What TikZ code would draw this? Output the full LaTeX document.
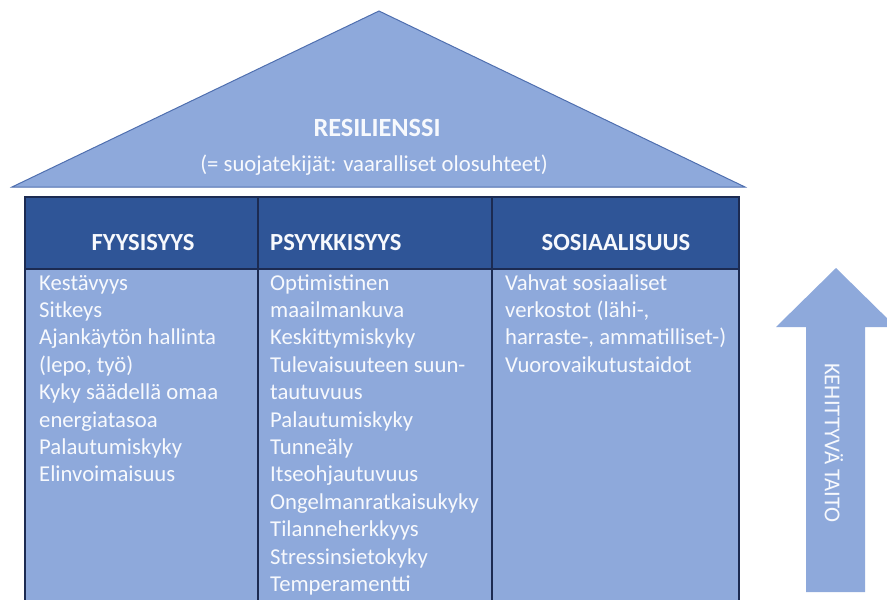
\documentclass[tikz,border=0pt]{standalone}
\usepackage{fontspec}
\setmainfont{Carlito}
\definecolor{lightblue}{HTML}{8EA9DB}
\definecolor{headblue}{HTML}{2F5597}
\definecolor{navy}{HTML}{1C2B52}
\definecolor{roofline}{HTML}{4F6FAF}
\definecolor{txt}{HTML}{F7F9FD}
\begin{document}
\tikzset{
  roof/.style={fill=lightblue, draw=roofline, line width=1pt, line join=miter},
  headband/.style={fill=headblue},
  bodyband/.style={fill=lightblue},
  tabline/.style={draw=navy, line width=1.4pt},
  headtext/.style={text=txt, font=\fontsize{24.6}{28}\selectfont\bfseries, inner sep=0pt, anchor=base},
  bodytext/.style={text=txt, font=\fontsize{22.7}{27.4}\selectfont, inner sep=0pt, anchor=base west, align=left},
  uparrow/.style={fill=lightblue},
}
\begin{tikzpicture}[x=1pt,y=-1pt]
\useasboundingbox (0,0) rectangle (887,600);
% roof
\path[roof] (12,187) -- (379,11) -- (745,187) -- cycle;
\node[text=txt, font=\fontsize{26.3}{30}\selectfont\bfseries, inner sep=0pt] (res) at (377,128) {RESILIENSSI};
\node[text=txt, font=\fontsize{22.7}{27}\selectfont, inner sep=0pt] (suoja) at (374,165) {(= suojatekijät: vaaralliset olosuhteet)};
% table
\fill[headband] (25,197) rectangle (739,269);
\fill[bodyband] (25,269) rectangle (739,606);
\draw[tabline] (25,606) -- (25,197) -- (739,197) -- (739,606);
\draw[tabline] (25,269) -- (739,269);
\draw[tabline] (258,197) -- (258,606);
\draw[tabline] (492,197) -- (492,606);
% headers
\node[headtext] (h1) at (143,250) {FYYSISYYS};
\node[headtext, anchor=base west] (h2) at (270,250) {PSYYKKISYYS};
\node[headtext] (h3) at (616,250) {SOSIAALISUUS};
% bodies (base anchor = last line's baseline)
\node[bodytext] (b1) at (39,{290+7*27.4}) {Kestävyys\\Sitkeys\\Ajankäytön hallinta\\(lepo, työ)\\Kyky säädellä omaa\\energiatasoa\\Palautumiskyky\\Elinvoimaisuus};
\node[bodytext] (b2) at (270,{290+11*27.4}) {Optimistinen\\maailmankuva\\Keskittymiskyky\\Tulevaisuuteen suun-\\tautuvuus\\Palautumiskyky\\Tunneäly\\Itseohjautuvuus\\Ongelmanratkaisukyky\\Tilanneherkkyys\\Stressinsietokyky\\Temperamentti};
\node[bodytext] (b3) at (505,{290+3*27.4}) {Vahvat sosiaaliset\\verkostot (lähi-,\\harraste-, ammatilliset-)\\Vuorovaikutustaidot};
% arrow
\path[uparrow] (806,592) -- (806,327) -- (776,327) -- (836,268) -- (896,327) -- (865,327) -- (865,592) -- cycle;
\node[text=txt, font=\fontsize{22.7}{27}\selectfont, rotate=-90, inner sep=0pt] (taito) at (834,443) {KEHITTYVÄ TAITO};
\end{tikzpicture}
\end{document}
